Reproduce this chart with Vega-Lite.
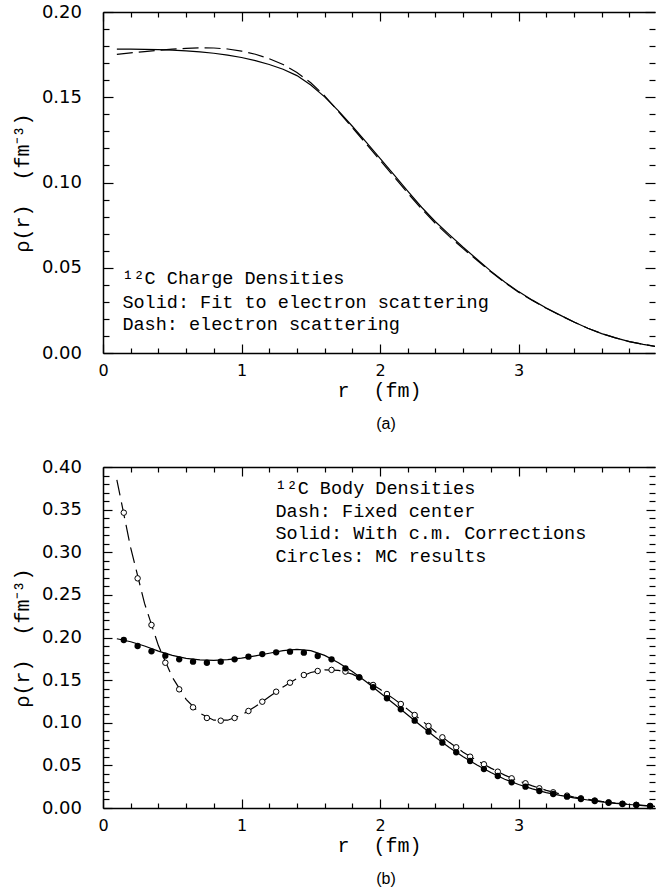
{
  "$schema": "https://vega.github.io/schema/vega-lite/v6.json",
  "padding": {"left": 12, "top": 3, "right": 0, "bottom": 0},
  "spacing": 26,
  "config": {
    "view": {"stroke": null},
    "axis": {"grid": false, "domainColor": "#000", "domainWidth": 1.5, "tickColor": "#000", "tickWidth": 1.2, "labelColor": "#000", "titleColor": "#000", "labelFont": "DejaVu Sans", "titleFont": "Liberation Mono", "titleFontWeight": "normal", "titleFontSize": 20, "labelFlush": false, "labelOverlap": false},
    "title": {"font": "Liberation Sans", "fontSize": 16, "fontWeight": "normal", "color": "#000"}
  },
  "datasets": {
    "a_fit": [{"r":0.1,"rho":0.1782},{"r":0.2,"rho":0.1782},{"r":0.3,"rho":0.1781},{"r":0.4,"rho":0.1779},{"r":0.5,"rho":0.1776},{"r":0.6,"rho":0.1772},{"r":0.7,"rho":0.1766},{"r":0.8,"rho":0.1758},{"r":0.9,"rho":0.1747},{"r":1.0,"rho":0.1733},{"r":1.1,"rho":0.1715},{"r":1.2,"rho":0.1692},{"r":1.3,"rho":0.1664},{"r":1.4,"rho":0.1627},{"r":1.5,"rho":0.1572},{"r":1.6,"rho":0.1502},{"r":1.7,"rho":0.1420},{"r":1.8,"rho":0.1330},{"r":1.9,"rho":0.1237},{"r":2.0,"rho":0.1142},{"r":2.1,"rho":0.1046},{"r":2.2,"rho":0.0950},{"r":2.3,"rho":0.0855},{"r":2.4,"rho":0.0770},{"r":2.5,"rho":0.0694},{"r":2.6,"rho":0.0620},{"r":2.7,"rho":0.0550},{"r":2.8,"rho":0.0480},{"r":2.9,"rho":0.0416},{"r":3.0,"rho":0.0360},{"r":3.1,"rho":0.0310},{"r":3.2,"rho":0.0264},{"r":3.3,"rho":0.0222},{"r":3.4,"rho":0.0182},{"r":3.5,"rho":0.0145},{"r":3.6,"rho":0.0114},{"r":3.7,"rho":0.0089},{"r":3.8,"rho":0.0067},{"r":3.9,"rho":0.0051},{"r":4.0,"rho":0.0037}],
    "a_exp": [{"r":0.1,"rho":0.1752},{"r":0.2,"rho":0.1760},{"r":0.3,"rho":0.1768},{"r":0.4,"rho":0.1776},{"r":0.5,"rho":0.1782},{"r":0.6,"rho":0.1787},{"r":0.7,"rho":0.1790},{"r":0.8,"rho":0.1789},{"r":0.9,"rho":0.1783},{"r":1.0,"rho":0.1771},{"r":1.1,"rho":0.1752},{"r":1.2,"rho":0.1726},{"r":1.3,"rho":0.1692},{"r":1.4,"rho":0.1645},{"r":1.5,"rho":0.1585},{"r":1.6,"rho":0.1508},{"r":1.7,"rho":0.1416},{"r":1.8,"rho":0.1322},{"r":1.9,"rho":0.1227},{"r":2.0,"rho":0.1131},{"r":2.1,"rho":0.1034},{"r":2.2,"rho":0.0938},{"r":2.3,"rho":0.0845},{"r":2.4,"rho":0.0760},{"r":2.5,"rho":0.0684},{"r":2.6,"rho":0.0612},{"r":2.7,"rho":0.0544},{"r":2.8,"rho":0.0476},{"r":2.9,"rho":0.0413},{"r":3.0,"rho":0.0357},{"r":3.1,"rho":0.0308},{"r":3.2,"rho":0.0262},{"r":3.3,"rho":0.0221},{"r":3.4,"rho":0.0182},{"r":3.5,"rho":0.0145},{"r":3.6,"rho":0.0114},{"r":3.7,"rho":0.0089},{"r":3.8,"rho":0.0067},{"r":3.9,"rho":0.0051},{"r":4.0,"rho":0.0037}],
    "a_text": [{"r":0.14,"rho":0.0440,"label":"\u00b9\u00b2C Charge Densities"},{"r":0.14,"rho":0.0301,"label":"Solid: Fit to electron scattering"},{"r":0.14,"rho":0.0170,"label":"Dash: electron scattering"}],
    "b_cm": [{"r":0.1,"rho":0.1985},{"r":0.2,"rho":0.1950},{"r":0.3,"rho":0.1900},{"r":0.4,"rho":0.1840},{"r":0.5,"rho":0.1790},{"r":0.6,"rho":0.1755},{"r":0.7,"rho":0.1737},{"r":0.8,"rho":0.1732},{"r":0.9,"rho":0.1740},{"r":1.0,"rho":0.1758},{"r":1.1,"rho":0.1785},{"r":1.2,"rho":0.1815},{"r":1.3,"rho":0.1845},{"r":1.4,"rho":0.1860},{"r":1.5,"rho":0.1845},{"r":1.6,"rho":0.1790},{"r":1.7,"rho":0.1705},{"r":1.8,"rho":0.1600},{"r":1.9,"rho":0.1480},{"r":2.0,"rho":0.1352},{"r":2.1,"rho":0.1223},{"r":2.2,"rho":0.1091},{"r":2.3,"rho":0.0960},{"r":2.4,"rho":0.0830},{"r":2.5,"rho":0.0709},{"r":2.6,"rho":0.0602},{"r":2.7,"rho":0.0504},{"r":2.8,"rho":0.0416},{"r":2.9,"rho":0.0338},{"r":3.0,"rho":0.0275},{"r":3.1,"rho":0.0224},{"r":3.2,"rho":0.0181},{"r":3.3,"rho":0.0148},{"r":3.4,"rho":0.0119},{"r":3.5,"rho":0.0094},{"r":3.6,"rho":0.0072},{"r":3.7,"rho":0.0054},{"r":3.8,"rho":0.0041},{"r":3.9,"rho":0.0029},{"r":4.0,"rho":0.0018}],
    "b_fixed": [{"r":0.1,"rho":0.3850},{"r":0.2,"rho":0.3050},{"r":0.3,"rho":0.2400},{"r":0.4,"rho":0.1905},{"r":0.5,"rho":0.1535},{"r":0.6,"rho":0.1275},{"r":0.7,"rho":0.1110},{"r":0.8,"rho":0.1030},{"r":0.9,"rho":0.1030},{"r":1.0,"rho":0.1090},{"r":1.1,"rho":0.1190},{"r":1.2,"rho":0.1305},{"r":1.3,"rho":0.1420},{"r":1.4,"rho":0.1520},{"r":1.5,"rho":0.1590},{"r":1.6,"rho":0.1620},{"r":1.7,"rho":0.1615},{"r":1.8,"rho":0.1570},{"r":1.9,"rho":0.1490},{"r":2.0,"rho":0.1392},{"r":2.1,"rho":0.1280},{"r":2.2,"rho":0.1157},{"r":2.3,"rho":0.1027},{"r":2.4,"rho":0.0895},{"r":2.5,"rho":0.0770},{"r":2.6,"rho":0.0655},{"r":2.7,"rho":0.0556},{"r":2.8,"rho":0.0468},{"r":2.9,"rho":0.0386},{"r":3.0,"rho":0.0318},{"r":3.1,"rho":0.0260},{"r":3.2,"rho":0.0207},{"r":3.3,"rho":0.0164},{"r":3.4,"rho":0.0129},{"r":3.5,"rho":0.0101},{"r":3.6,"rho":0.0077},{"r":3.7,"rho":0.0058},{"r":3.8,"rho":0.0043},{"r":3.9,"rho":0.0031},{"r":4.0,"rho":0.0021}],
    "b_mc_cm": [{"r":0.15,"rho":0.1971},{"r":0.25,"rho":0.1900},{"r":0.35,"rho":0.1838},{"r":0.45,"rho":0.1787},{"r":0.55,"rho":0.1744},{"r":0.65,"rho":0.1716},{"r":0.75,"rho":0.1704},{"r":0.85,"rho":0.1716},{"r":0.95,"rho":0.1744},{"r":1.05,"rho":0.1775},{"r":1.15,"rho":0.1806},{"r":1.25,"rho":0.1826},{"r":1.35,"rho":0.1834},{"r":1.45,"rho":0.1822},{"r":1.55,"rho":0.1783},{"r":1.65,"rho":0.1744},{"r":1.75,"rho":0.1638},{"r":1.85,"rho":0.1533},{"r":1.95,"rho":0.1416},{"r":2.05,"rho":0.1287},{"r":2.15,"rho":0.1158},{"r":2.25,"rho":0.1024},{"r":2.35,"rho":0.0895},{"r":2.45,"rho":0.0766},{"r":2.55,"rho":0.0653},{"r":2.65,"rho":0.0551},{"r":2.75,"rho":0.0457},{"r":2.85,"rho":0.0375},{"r":2.95,"rho":0.0301},{"r":3.05,"rho":0.0250},{"r":3.15,"rho":0.0199},{"r":3.25,"rho":0.0164},{"r":3.35,"rho":0.0133},{"r":3.45,"rho":0.0106},{"r":3.55,"rho":0.0082},{"r":3.65,"rho":0.0062},{"r":3.75,"rho":0.0047},{"r":3.85,"rho":0.0035},{"r":3.95,"rho":0.0023}],
    "b_mc_fixed": [{"r":0.15,"rho":0.3464},{"r":0.25,"rho":0.2694},{"r":0.35,"rho":0.2147},{"r":0.45,"rho":0.1704},{"r":0.55,"rho":0.1392},{"r":0.65,"rho":0.1181},{"r":0.75,"rho":0.1056},{"r":0.85,"rho":0.1024},{"r":0.95,"rho":0.1056},{"r":1.05,"rho":0.1138},{"r":1.15,"rho":0.1247},{"r":1.25,"rho":0.1364},{"r":1.35,"rho":0.1470},{"r":1.45,"rho":0.1560},{"r":1.55,"rho":0.1607},{"r":1.65,"rho":0.1620},{"r":1.75,"rho":0.1600},{"r":1.85,"rho":0.1533},{"r":1.95,"rho":0.1443},{"r":2.05,"rho":0.1337},{"r":2.15,"rho":0.1220},{"r":2.25,"rho":0.1091},{"r":2.35,"rho":0.0962},{"r":2.45,"rho":0.0829},{"r":2.55,"rho":0.0712},{"r":2.65,"rho":0.0602},{"r":2.75,"rho":0.0513},{"r":2.85,"rho":0.0426},{"r":2.95,"rho":0.0348},{"r":3.05,"rho":0.0290},{"r":3.15,"rho":0.0231},{"r":3.25,"rho":0.0184},{"r":3.35,"rho":0.0145},{"r":3.45,"rho":0.0114},{"r":3.55,"rho":0.0088},{"r":3.65,"rho":0.0067},{"r":3.75,"rho":0.0050},{"r":3.85,"rho":0.0037},{"r":3.95,"rho":0.0025}],
    "b_text": [{"r":1.245,"rho":0.375,"label":"\u00b9\u00b2C Body Densities"},{"r":1.245,"rho":0.3487,"label":"Dash: Fixed center"},{"r":1.245,"rho":0.3222,"label":"Solid: With c.m. Corrections"},{"r":1.245,"rho":0.2956,"label":"Circles: MC results"}]
  },
  "vconcat": [
    {
      "width": 552, "height": 341,
      "title": {"text": "(a)", "orient": "bottom", "frame": "group", "anchor": "middle", "dx": 7, "offset": 16},
      "resolve": {"axis": {"x": "independent", "y": "independent"}},
      "layer": [
        {"data": {"name": "a_fit"}, "mark": {"type": "line", "color": "#000", "strokeWidth": 1.2, "clip": true},
         "encoding": {
           "x": {"field": "r", "type": "quantitative", "scale": {"domain": [0, 3.985], "nice": false, "zero": false},
                 "axis": {"orient": "bottom", "values": [0,0.2,0.4,0.6,0.8,1,1.2,1.4,1.6,1.8,2,2.2,2.4,2.6,2.8,3,3.2,3.4,3.6,3.8],
                          "tickSize": {"condition": {"test": "abs(datum.value - round(datum.value)) < 0.001", "value": -9}, "value": -5},
                          "labelExpr": "abs(datum.value - round(datum.value)) < 0.001 ? format(datum.value, 'd') : ''",
                          "labelFontSize": 16, "labelPadding": 18, "title": "r\u00a0\u00a0(fm)", "titlePadding": -2}},
           "y": {"field": "rho", "type": "quantitative", "scale": {"domain": [0, 0.2], "nice": false},
                 "axis": {"orient": "left", "values": [0,0.01,0.02,0.03,0.04,0.05,0.06,0.07,0.08,0.09,0.1,0.11,0.12,0.13,0.14,0.15,0.16,0.17,0.18,0.19,0.2],
                          "tickSize": {"condition": {"test": "abs(datum.value*20 - round(datum.value*20)) < 0.001", "value": -10}, "value": -6},
                          "labelExpr": "abs(datum.value*20 - round(datum.value*20)) < 0.001 ? format(datum.value, '.2f') : ''",
                          "labelFontSize": 18, "labelPadding": 31.5, "title": "\u03c1(r)\u00a0\u00a0(fm\u207b\u00b3)", "titlePadding": 9}}
         }},
        {"data": {"name": "a_exp"}, "mark": {"type": "line", "color": "#000", "strokeWidth": 1.2, "strokeDash": [16, 6], "clip": true},
         "encoding": {
           "x": {"field": "r", "type": "quantitative", "scale": {"domain": [0, 3.985], "nice": false, "zero": false},
                 "axis": {"orient": "top", "values": [0,0.2,0.4,0.6,0.8,1,1.2,1.4,1.6,1.8,2,2.2,2.4,2.6,2.8,3,3.2,3.4,3.6,3.8],
                          "tickSize": {"condition": {"test": "abs(datum.value - round(datum.value)) < 0.001", "value": -9}, "value": -5},
                          "labels": false, "title": null}},
           "y": {"field": "rho", "type": "quantitative", "scale": {"domain": [0, 0.2], "nice": false},
                 "axis": {"orient": "right", "values": [0,0.01,0.02,0.03,0.04,0.05,0.06,0.07,0.08,0.09,0.1,0.11,0.12,0.13,0.14,0.15,0.16,0.17,0.18,0.19,0.2],
                          "tickSize": {"condition": {"test": "abs(datum.value*20 - round(datum.value*20)) < 0.001", "value": -10}, "value": -6},
                          "labels": false, "title": null, "domain": false}}
         }},
        {"data": {"name": "a_text"}, "mark": {"type": "text", "align": "left", "baseline": "middle", "font": "Liberation Mono", "fontSize": 18.5, "color": "#000"},
         "encoding": {
           "x": {"field": "r", "type": "quantitative", "scale": {"domain": [0, 3.985], "nice": false, "zero": false}, "axis": null},
           "y": {"field": "rho", "type": "quantitative", "scale": {"domain": [0, 0.2], "nice": false}, "axis": null},
           "text": {"field": "label"}
         }}
      ]
    },
    {
      "width": 552, "height": 341,
      "title": {"text": "(b)", "orient": "bottom", "frame": "group", "anchor": "middle", "dx": 7, "offset": 16},
      "resolve": {"axis": {"x": "independent", "y": "independent"}},
      "layer": [
        {"data": {"name": "b_cm"}, "mark": {"type": "line", "color": "#000", "strokeWidth": 1.2, "clip": true},
         "encoding": {
           "x": {"field": "r", "type": "quantitative", "scale": {"domain": [0, 3.985], "nice": false, "zero": false},
                 "axis": {"orient": "bottom", "values": [0,0.2,0.4,0.6,0.8,1,1.2,1.4,1.6,1.8,2,2.2,2.4,2.6,2.8,3,3.2,3.4,3.6,3.8],
                          "tickSize": {"condition": {"test": "abs(datum.value - round(datum.value)) < 0.001", "value": -9}, "value": -5},
                          "labelExpr": "abs(datum.value - round(datum.value)) < 0.001 ? format(datum.value, 'd') : ''",
                          "labelFontSize": 16, "labelPadding": 18, "title": "r\u00a0\u00a0(fm)", "titlePadding": -2}},
           "y": {"field": "rho", "type": "quantitative", "scale": {"domain": [0, 0.4], "nice": false},
                 "axis": {"orient": "left", "values": [0,0.01,0.02,0.03,0.04,0.05,0.06,0.07,0.08,0.09,0.1,0.11,0.12,0.13,0.14,0.15,0.16,0.17,0.18,0.19,0.2,0.21,0.22,0.23,0.24,0.25,0.26,0.27,0.28,0.29,0.3,0.31,0.32,0.33,0.34,0.35,0.36,0.37,0.38,0.39,0.4],
                          "tickSize": {"condition": {"test": "abs(datum.value*20 - round(datum.value*20)) < 0.001", "value": -9}, "value": -6},
                          "labelExpr": "abs(datum.value*20 - round(datum.value*20)) < 0.001 ? format(datum.value, '.2f') : ''",
                          "labelFontSize": 18, "labelPadding": 30.5, "title": "\u03c1(r)\u00a0\u00a0(fm\u207b\u00b3)", "titlePadding": 9}}
         }},
        {"data": {"name": "b_fixed"}, "mark": {"type": "line", "color": "#000", "strokeWidth": 1.2, "strokeDash": [16, 7], "clip": true},
         "encoding": {
           "x": {"field": "r", "type": "quantitative", "scale": {"domain": [0, 3.985], "nice": false, "zero": false},
                 "axis": {"orient": "top", "values": [0,0.2,0.4,0.6,0.8,1,1.2,1.4,1.6,1.8,2,2.2,2.4,2.6,2.8,3,3.2,3.4,3.6,3.8],
                          "tickSize": {"condition": {"test": "abs(datum.value - round(datum.value)) < 0.001", "value": -9}, "value": -5},
                          "labels": false, "title": null}},
           "y": {"field": "rho", "type": "quantitative", "scale": {"domain": [0, 0.4], "nice": false},
                 "axis": {"orient": "right", "values": [0,0.01,0.02,0.03,0.04,0.05,0.06,0.07,0.08,0.09,0.1,0.11,0.12,0.13,0.14,0.15,0.16,0.17,0.18,0.19,0.2,0.21,0.22,0.23,0.24,0.25,0.26,0.27,0.28,0.29,0.3,0.31,0.32,0.33,0.34,0.35,0.36,0.37,0.38,0.39,0.4],
                          "tickSize": {"condition": {"test": "abs(datum.value*20 - round(datum.value*20)) < 0.001", "value": -9}, "value": -6},
                          "labels": false, "title": null, "domain": false}}
         }},
        {"data": {"name": "b_mc_fixed"}, "mark": {"type": "point", "shape": "circle", "filled": false, "fill": "#fff", "fillOpacity": 1, "stroke": "#000", "strokeWidth": 1, "size": 30, "opacity": 1},
         "encoding": {
           "x": {"field": "r", "type": "quantitative", "scale": {"domain": [0, 3.985], "nice": false, "zero": false}, "axis": null},
           "y": {"field": "rho", "type": "quantitative", "scale": {"domain": [0, 0.4], "nice": false}, "axis": null}
         }},
        {"data": {"name": "b_mc_cm"}, "mark": {"type": "point", "shape": "circle", "filled": true, "color": "#000", "size": 40, "opacity": 1},
         "encoding": {
           "x": {"field": "r", "type": "quantitative", "scale": {"domain": [0, 3.985], "nice": false, "zero": false}, "axis": null},
           "y": {"field": "rho", "type": "quantitative", "scale": {"domain": [0, 0.4], "nice": false}, "axis": null}
         }},
        {"data": {"name": "b_text"}, "mark": {"type": "text", "align": "left", "baseline": "middle", "font": "Liberation Mono", "fontSize": 18.5, "color": "#000"},
         "encoding": {
           "x": {"field": "r", "type": "quantitative", "scale": {"domain": [0, 3.985], "nice": false, "zero": false}, "axis": null},
           "y": {"field": "rho", "type": "quantitative", "scale": {"domain": [0, 0.4], "nice": false}, "axis": null},
           "text": {"field": "label"}
         }}
      ]
    }
  ]
}
